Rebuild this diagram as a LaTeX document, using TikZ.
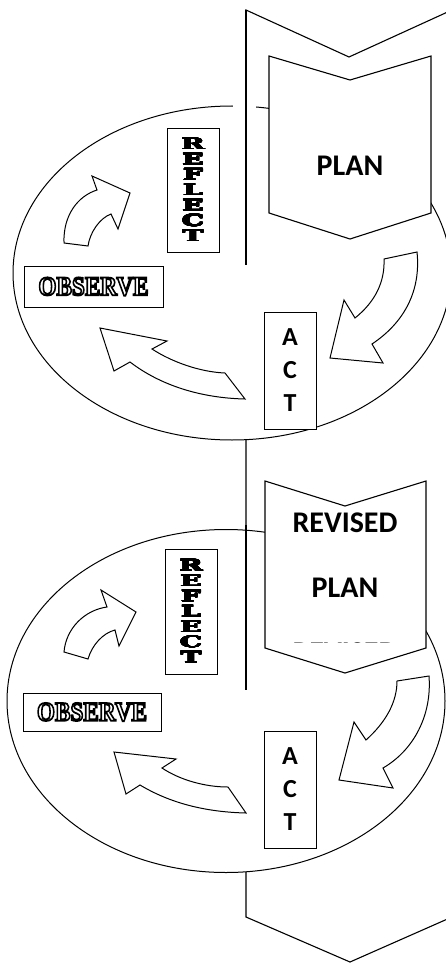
\documentclass[tikz,border=0pt]{standalone}
\usepackage{fontspec}
\usepackage{graphicx}
\usepackage{contour}
\newfontfamily\stagesans{Carlito}
\newfontfamily\observeserif{Liberation Serif}
\newfontfamily\reflectserif{DejaVu Serif}
\contournumber{24}
\newcommand{\wideletter}[1]{\scalebox{2.0}[1.12]{\contourlength{0.3pt}\contour{black}{#1}}}
\newcommand{\hollowword}[1]{\scalebox{0.86}[1]{\special{pdf:literal direct 1 Tr 1.8 w}#1\special{pdf:literal direct 0 Tr}}}

\begin{document}
\begin{tikzpicture}[x=1pt,y=-1pt,
  cyclering/.style={draw, fill=white, line width=1pt},
  chevronpath/.style={draw, fill=white, line width=1.1pt, line join=miter},
  stagebox/.style={draw, fill=white, line width=0.9pt, inner sep=0pt, align=center},
  planlabel/.style={font=\stagesans\bfseries\fontsize{30}{65}\selectfont, align=center, inner sep=0pt},
  actlabel/.style={stagebox, font=\stagesans\bfseries\fontsize{26}{33}\selectfont, minimum width=52pt, minimum height=117pt},
  reflectlabel/.style={stagebox, font=\reflectserif\bfseries\fontsize{14}{15.3}\selectfont, minimum width=52pt},
  observelabel/.style={stagebox, font=\observeserif\bfseries\fontsize{27}{30}\selectfont},
  blockarrow/.style={draw, fill=white, line width=1pt, line join=miter},
]
\fill[white] (0,0) rectangle (446,963);
\useasboundingbox (0,0) rectangle (446,963);
\clip (0,0) rectangle (446,963);

% long outer chevron behind both cycles
\draw[chevronpath] (246,10) -- (349,57) -- (452,10) -- (452,917) -- (350,962) -- (246,917) -- cycle;

% the two cycles
\draw[cyclering] (232,273) ellipse [x radius=219, y radius=167];
\draw[cyclering] (226,701) ellipse [x radius=219, y radius=171.5];
\fill[white] (233,100) rectangle (256,115);
\draw[line width=1.1pt] (246,10) -- (246,265);
\draw[line width=1.1pt] (246,525) -- (246,690);

% plan chevrons
\draw[chevronpath] (269,56) -- (350,80) -- (431,56) -- (431,213) -- (350,239) -- (269,213) -- cycle;
\node[planlabel] (plan) at (350,166) {PLAN};
\draw[chevronpath] (265,481) -- (345,506) -- (426,481) -- (426,648) -- (345,673) -- (265,648) -- cycle;
\begin{scope}
  \clip (265,481) rectangle (426,642.5);
  \node[planlabel, anchor=north] (revised) at (345,513) {REVISED\\PLAN\\REVISED};
\end{scope}

% first cycle
\node[reflectlabel, minimum height=124pt] (reflect) at (193,190)
  {\wideletter{R}\\\wideletter{E}\\\wideletter{F}\\\wideletter{L}\\\wideletter{E}\\\wideletter{C}\\\wideletter{T}};
\node[observelabel, minimum width=139pt, minimum height=41pt] (observe) at (93.5,286.5) {\hollowword{OBSERVE}};
\node[actlabel] (act) at (290,370.5) {A\\C\\T};
\draw[blockarrow] (64,243) .. controls (63,215) and (78,196) .. (97,190) -- (92,176) -- (130,193) -- (118,229) -- (111,214)
  .. controls (100,218) and (90,232) .. (88,246) -- cycle;
\draw[blockarrow] (384,259) -- (417,252) .. controls (421,290) and (405,322) .. (372,344) -- (383,363) -- (330,358) -- (344,300) -- (355,318)
  .. controls (375,302) and (385,282) .. (384,259) -- cycle;
\draw[blockarrow] (100,328) -- (167,341) -- (152,349) .. controls (172,362) and (200,372) .. (225,373) -- (245,399)
  .. controls (200,398) and (160,385) .. (130,362) -- (114,371) -- cycle;

% second cycle
\node[reflectlabel, minimum height=125pt] (reflect2) at (191,611.5)
  {\wideletter{R}\\\wideletter{E}\\\wideletter{F}\\\wideletter{L}\\\wideletter{E}\\\wideletter{C}\\\wideletter{T}};
\node[observelabel, minimum width=138pt, minimum height=38pt] (observe2) at (92,712) {\hollowword{OBSERVE}};
\node[actlabel] (act2) at (290,789.5) {A\\C\\T};
\draw[blockarrow] (64,652) .. controls (66,628) and (85,610) .. (107,607) -- (101,590) -- (136,612) -- (119,646) -- (115,630)
  .. controls (103,633) and (92,645) .. (88,659) -- cycle;
\draw[blockarrow] (397,681) -- (429,676) .. controls (432,715) and (414,750) .. (383,768) -- (393,788) -- (339,780) -- (354,722) -- (366,740)
  .. controls (386,722) and (397,702) .. (397,681) -- cycle;
\draw[blockarrow] (114,752) -- (176,759) -- (162,768) .. controls (180,780) and (205,787) .. (228,787) -- (246,813)
  .. controls (205,812) and (170,803) .. (140,785) -- (126,794) -- cycle;
\end{tikzpicture}
\end{document}
